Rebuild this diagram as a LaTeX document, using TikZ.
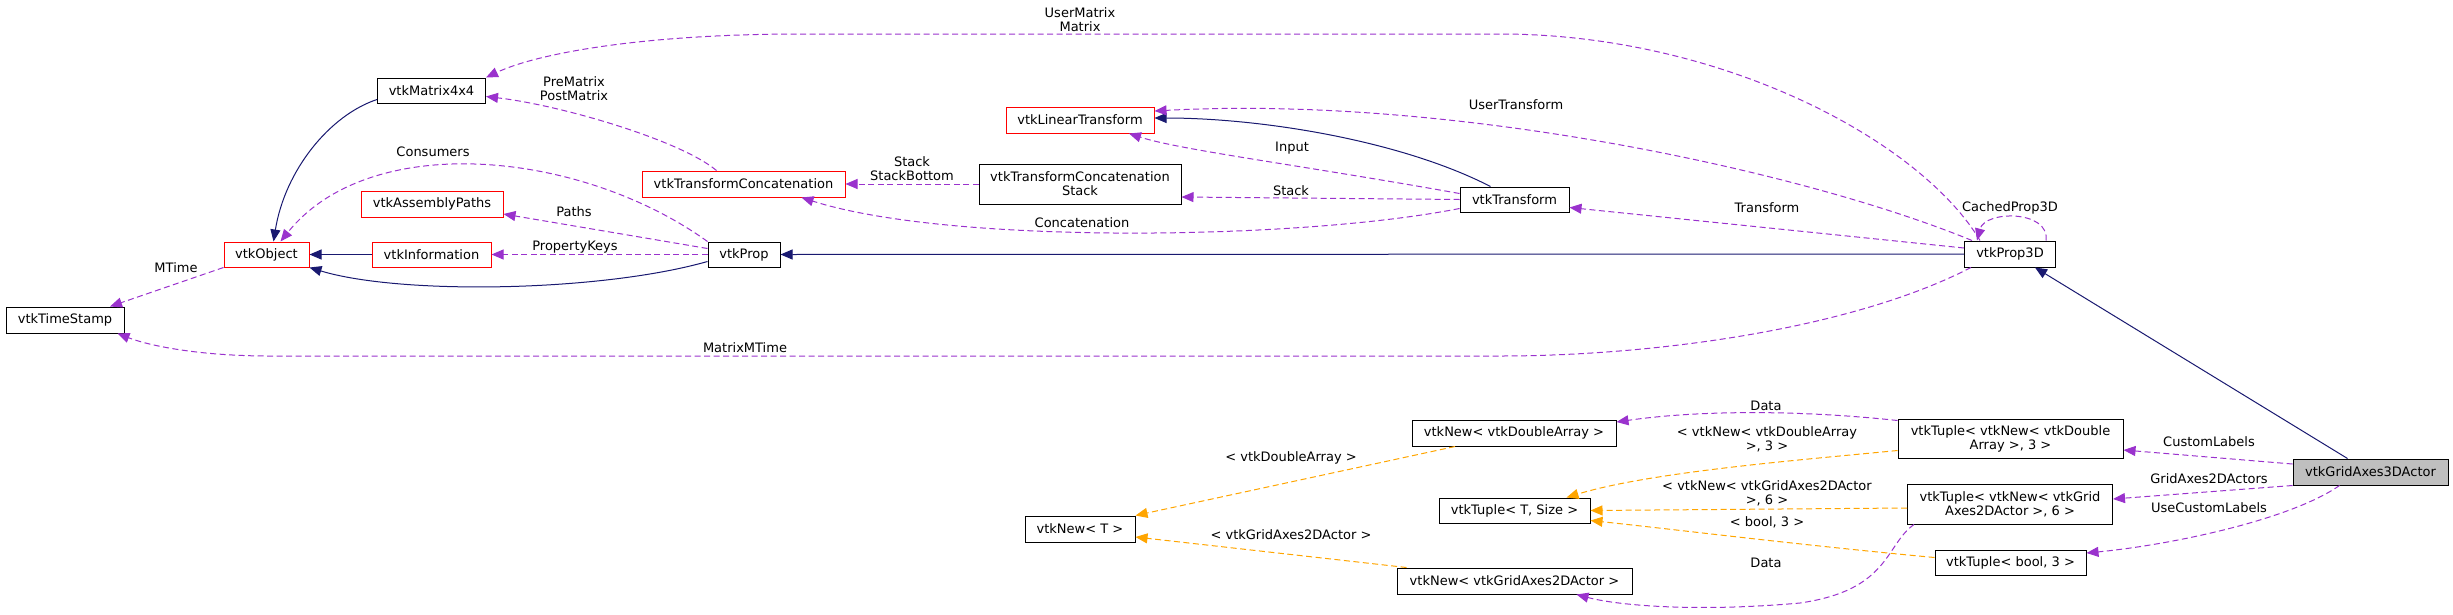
\documentclass[tikz,border=0pt]{standalone}
\usepackage{fontspec}
\setmainfont{DejaVu Sans}
\usepackage{tikz}
\usetikzlibrary{arrows.meta}
\definecolor{inhnavy}{HTML}{191970}
\definecolor{usepurple}{HTML}{9A32CD}
\definecolor{tplorange}{HTML}{FFA500}
\definecolor{mainfill}{HTML}{BFBFBF}
\tikzset{
  classbox/.style={
    rectangle,
    draw=black,
    line width=1pt,
    fill=white,
    inner sep=0pt,
    align=center,
    font=\fontsize{13}{14}\selectfont
  },
  redbox/.style={
    classbox,
    draw=red
  },
  mainbox/.style={
    classbox,
    fill=mainfill
  },
  inherit/.style={
    draw=inhnavy,
    line width=1pt,
    -{Triangle[length=12pt,width=10pt]},
    inhnavy
  },
  usage/.style={
    draw=usepurple,
    line width=1pt,
    dash pattern=on 6pt off 3.5pt,
    -{Triangle[length=12pt,width=10pt]},
    usepurple
  },
  templ/.style={
    draw=tplorange,
    line width=1pt,
    dash pattern=on 6pt off 3.5pt,
    -{Triangle[length=12pt,width=10pt]},
    tplorange
  },
  elabel/.style={
    inner sep=0pt,
    align=center,
    font=\fontsize{13}{14}\selectfont
  }
}

\begin{document}
\begin{tikzpicture}[x=1pt,y=-1pt]
  \useasboundingbox (0,0) rectangle (2453,614);

  % classes, column by column
  \node[classbox, minimum width=118pt, minimum height=26pt] (TimeStamp) at (65,320) {vtkTimeStamp};
  \node[redbox, minimum width=85pt, minimum height=25pt] (Object) at (266.5,254.5) {vtkObject};
  \node[classbox, minimum width=108pt, minimum height=25pt] (Matrix) at (431.5,90.5) {vtkMatrix4x4};
  \node[redbox, minimum width=142pt, minimum height=26pt] (AsmPaths) at (432,204) {vtkAssemblyPaths};
  \node[redbox, minimum width=119pt, minimum height=25pt] (Info) at (431.5,254.5) {vtkInformation};
  \node[classbox, minimum width=72pt, minimum height=25pt] (Prop) at (744,254.5) {vtkProp};
  \node[redbox, minimum width=203pt, minimum height=26pt] (TConcat) at (743.5,184) {vtkTransformConcatenation};
  \node[redbox, minimum width=148pt, minimum height=26pt] (LinTr) at (1080,120) {vtkLinearTransform};
  \node[classbox, minimum width=202pt, minimum height=40pt] (TCStack) at (1080,184) {vtkTransformConcatenation\\Stack};
  \node[classbox, minimum width=110pt, minimum height=26pt] (NewT) at (1080,529) {vtkNew< T >};
  \node[classbox, minimum width=109pt, minimum height=25pt] (Transf) at (1514.5,199.5) {vtkTransform};
  \node[classbox, minimum width=204pt, minimum height=26pt] (NewDA) at (1514,433) {vtkNew< vtkDoubleArray >};
  \node[classbox, minimum width=151pt, minimum height=25pt] (TupleT) at (1514.5,510.5) {vtkTuple< T, Size >};
  \node[classbox, minimum width=235pt, minimum height=26pt] (NewGrid) at (1514.5,581) {vtkNew< vtkGridAxes2DActor >};
  \node[classbox, minimum width=91pt, minimum height=26pt] (Prop3D) at (2010,254) {vtkProp3D};
  \node[classbox, minimum width=225pt, minimum height=39pt] (TupleDA) at (2010.5,438.5) {vtkTuple< vtkNew< vtkDouble\\Array >, 3 >};
  \node[classbox, minimum width=205pt, minimum height=40pt] (TupleGrid) at (2010,504) {vtkTuple< vtkNew< vtkGrid\\Axes2DActor >, 6 >};
  \node[classbox, minimum width=151pt, minimum height=25pt] (TupleBool) at (2010.5,562.5) {vtkTuple< bool, 3 >};
  \node[mainbox, minimum width=155pt, minimum height=26pt] (GridActor) at (2370.5,472) {vtkGridAxes3DActor};

  % inheritance
  \draw[inherit] ([yshift=-9pt]Matrix.west) .. controls (330,115) and (285,170) .. ([xshift=7pt]Object.north);
  \draw[inherit] (Info.west) -- (Object.east);
  \draw[inherit] ([yshift=-7pt]Prop.west) .. controls (600,292) and (400,295) .. (Object.south east);
  \draw[inherit] ([xshift=-24pt]Transf.north) .. controls (1400,140) and (1260,118) .. ([yshift=2pt]LinTr.east);
  \draw[inherit] (Prop3D.west) -- (Prop.east);
  \draw[inherit] ([xshift=-23pt]GridActor.north) -- ([xshift=25pt]Prop3D.south);

  % usage
  \draw[usage] ([xshift=-30pt]Prop3D.north) .. controls (1920,140) and (1720,34) .. (1500,34)
    -- (800,34) .. controls (650,34) and (540,52) .. (Matrix.north east);
  \node[elabel] (lUserMatrix) at (1080,19.5) {UserMatrix\\Matrix};
  \draw[usage] ([xshift=-27pt]TConcat.north) .. controls (680,140) and (560,105) .. ([yshift=-6pt]Matrix.east);
  \node[elabel] (lPreMatrix) at (574,88.5) {PreMatrix\\PostMatrix};
  \draw[usage] (Prop.north west) .. controls (580,150) and (370,130) .. ([xshift=14pt]Object.north);
  \node[elabel] (lConsumers) at (433,152) {Consumers};
  \draw[usage] ([yshift=6pt]Prop.west) -- ([yshift=-10pt]AsmPaths.east);
  \node[elabel] (lPaths) at (574,212) {Paths};
  \draw[usage] (Prop.west) -- (Info.east);
  \node[elabel] (lPropKeys) at (575,247) {PropertyKeys};
  \draw[usage] (Object.south west) -- ([xshift=45pt]TimeStamp.north);
  \node[elabel] (lMTime) at (176,268) {MTime};
  \draw[usage] ([xshift=-39pt]Prop3D.south) .. controls (1850,330) and (1650,356) .. (1500,356)
    -- (270,356) .. controls (200,356) and (150,346) .. ([xshift=-7pt]TimeStamp.south east);
  \node[elabel] (lMatrixMTime) at (745,348) {MatrixMTime};
  \draw[usage] (TCStack.west) -- (TConcat.east);
  \node[elabel] (lStackBottom) at (912,168.5) {Stack\\StackBottom};
  \draw[usage] ([yshift=6pt]Transf.west) .. controls (1300,165) and (1180,150) .. ([xshift=49pt]LinTr.south);
  \node[elabel] (lInput) at (1292,148) {Input};
  \draw[usage] (Transf.west) -- ([yshift=-13pt]TCStack.east);
  \node[elabel] (lStack) at (1291,191) {Stack};
  \draw[usage] ([yshift=-9pt]Transf.west) .. controls (1300,240) and (950,245) .. ([xshift=58pt]TConcat.south);
  \node[elabel] (lConcat) at (1082,223) {Concatenation};
  \draw[usage] ([xshift=-38pt]Prop3D.north) .. controls (1800,170) and (1450,95) .. ([yshift=9pt]LinTr.east);
  \node[elabel] (lUserTransform) at (1516,105) {UserTransform};
  \draw[usage] ([yshift=6pt]Prop3D.west) -- ([yshift=-8pt]Transf.east);
  \node[elabel] (lTransform) at (1767,208) {Transform};
  \draw[usage] ([xshift=36pt]Prop3D.north) .. controls (2050,210) and (1985,210) .. ([xshift=-33pt]Prop3D.north);
  \node[elabel] (lCached) at (2010,208) {CachedProp3D};
  \draw[usage] ([yshift=-2pt]TupleDA.north west) .. controls (1800,410) and (1700,410) .. ([yshift=11pt]NewDA.east);
  \node[elabel] (lDataA) at (1766,406) {Data};
  \draw[usage] ([yshift=8pt]GridActor.west) -- ([yshift=-11.5pt]TupleDA.east);
  \node[elabel] (lCustom) at (2209,442) {CustomLabels};
  \draw[usage] (GridActor.south west) -- ([yshift=5pt]TupleGrid.east);
  \node[elabel] (lGridAxes) at (2209,479) {GridAxes2DActors};
  \draw[usage] ([xshift=-31pt]GridActor.south) .. controls (2290,520) and (2170,545) .. ([yshift=9.5pt]TupleBool.east);
  \node[elabel] (lUseCustom) at (2209,508) {UseCustomLabels};
  \draw[usage] ([xshift=-96pt]TupleGrid.south) .. controls (1885,545) and (1890,590) .. (1800,603)
    .. controls (1700,612) and (1620,606) .. ([xshift=62pt]NewGrid.south);
  \node[elabel] (lDataB) at (1766,563) {Data};

  % template instances
  \draw[templ] ([xshift=-59pt]NewDA.south) -- (NewT.north east);
  \node[elabel] (lDoubleArray) at (1291,458) {< vtkDoubleArray >};
  \draw[templ] ([xshift=-108pt]NewGrid.north) -- ([yshift=-8pt]NewT.east);
  \node[elabel] (lGrid2D) at (1291,535) {< vtkGridAxes2DActor >};
  \draw[templ] ([yshift=-12pt]TupleDA.west) .. controls (1800,460) and (1650,472) .. ([xshift=52pt]TupleT.north);
  \node[elabel] (lTplDA) at (1767,439) {< vtkNew< vtkDoubleArray\\>, 3 >};
  \draw[templ] ([yshift=-4pt]TupleGrid.west) -- (TupleT.east);
  \node[elabel] (lTplGrid) at (1767,493.5) {< vtkNew< vtkGridAxes2DActor\\>, 6 >};
  \draw[templ] ([yshift=5pt]TupleBool.west) .. controls (1800,545) and (1680,530) .. ([yshift=-10pt]TupleT.east);
  \node[elabel] (lTplBool) at (1767,522) {< bool, 3 >};
\end{tikzpicture}
\end{document}
